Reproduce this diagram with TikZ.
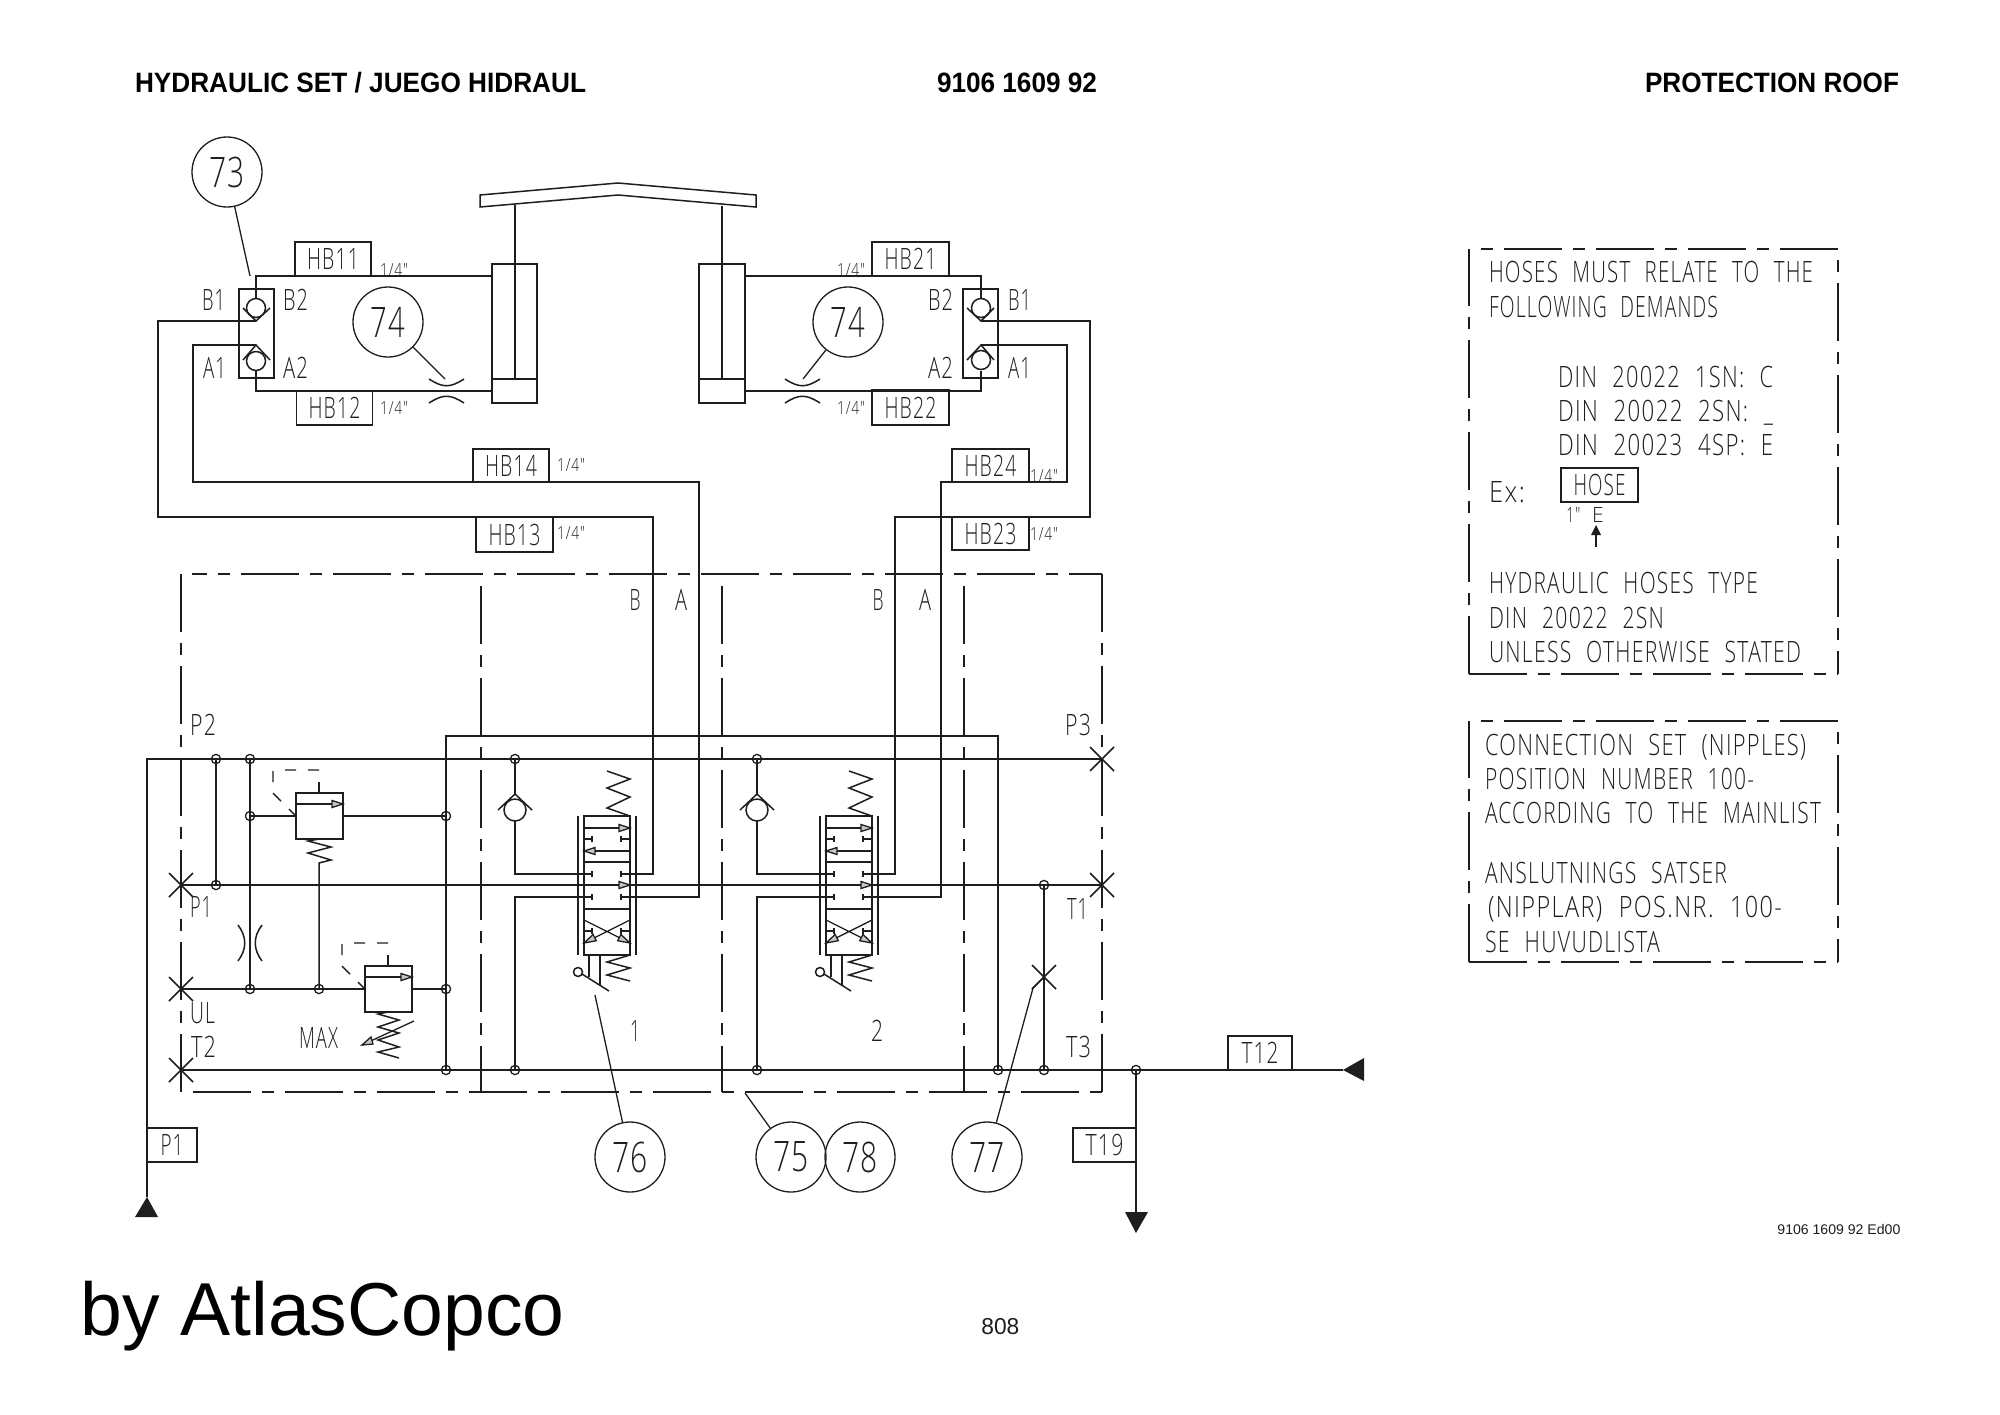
\documentclass[tikz,border=0pt]{standalone}
\usepackage{fontspec}
\usepackage{graphicx}
\setmainfont{Liberation Sans}
\newfontfamily\cadfam[LetterSpace=6,WordSpace=2.2]{Open Sans Light}
\newlength\cwl
\newcommand\cw[2]{\setlength\cwl{\dimexpr#1pt/2\relax}\resizebox{\cwl}{\height}{#2}}
\definecolor{ink}{HTML}{1E1E1E}
\tikzset{
  pipe/.style={line width=.75pt,draw=ink,line join=miter},
  thin line/.style={line width=.65pt,draw=ink},
  dashL/.style={line width=.7pt,draw=ink,dash pattern=on 29pt off 5.5pt on 6pt off 5.5pt},
  dashS/.style={line width=.7pt,draw=ink,dash pattern=on 6pt off 5.5pt on 29pt off 5.5pt},
  pilot/.style={line width=.7pt,draw=ink},
  jn/.style={circle,draw=ink,line width=.65pt,inner sep=0pt,minimum size=4.6pt},
  balloon/.style={circle,draw=ink,line width=.65pt,inner sep=0pt,minimum size=35pt,font=\fontsize{21}{21}\cadfam,text=ink},
  bx/.style n args={2}{draw=ink,line width=.7pt,inner sep=0pt,minimum width=#1*.5pt,minimum height=#2*.5pt,font=\fontsize{14.7}{14.7}\cadfam,text=ink},
  solidbox/.style n args={2}{draw=ink,line width=.75pt,inner sep=0pt,minimum width=#1*.5pt,minimum height=#2*.5pt},
  tw/.style={inner sep=0pt,outer sep=0pt,anchor=base west,font=\fontsize{14.7}{14.7}\cadfam,text=ink},
  tc/.style={inner sep=0pt,outer sep=0pt,anchor=base,font=\fontsize{14.7}{14.7}\cadfam,text=ink},
  tq/.style={inner sep=0pt,outer sep=0pt,anchor=base west,font=\fontsize{9}{9}\cadfam,text=ink},
  th/.style={inner sep=0pt,outer sep=0pt,anchor=base west,font=\fontsize{14}{14}\selectfont\bfseries,text=black},
  xm/.pic={\draw[pipe] (-12,-12)--(12,12) (-12,12)--(12,-12);},
  headR/.pic={\draw[thin line,fill=gray!45] (0,0)--(-11,-3.5)--(-11,3.5)--cycle;},
  headL/.pic={\draw[thin line,fill=gray!45] (0,0)--(11,-3.5)--(11,3.5)--cycle;},
  relief/.pic={
    \draw[pipe] (0,0) rectangle (47,46);
    \draw[pipe] (0,11)--(47,11) (23,0)--(23,-11);
    \pic at (47,11) {headR};
    \draw[pilot] (-11,-23)--(0,-23) (12,-23)--(23,-23) (-23,-22)--(-23,-11)
                 (-23,0)--(-15,8) (-7,16)--(0,23);
  },
  chk/.pic={
    \draw[pipe] (0,0) circle[radius=11];
    \draw[pipe] (-17,0)--(0,-16)--(17,0);
  },
  spool/.pic={
    \draw[pipe] (0,0) rectangle (46,139);
    \draw[pipe] (0,46)--(46,46) (0,93)--(46,93);
    \draw[pipe] (-6,0)--(-6,139) (52,0)--(52,139);
    \draw[pipe] (0,12)--(46,12) (0,35)--(46,35);
    \pic at (46,12) {headR};
    \pic at (0,35) {headL};
    \pic at (46,69) {headR};
    \draw[thin line] (0,23)--(8,23) (8,20)--(8,26) (46,23)--(37,23) (37,20)--(37,26);
    \draw[thin line] (8,55)--(8,61) (37,55)--(37,61) (8,78)--(8,84) (37,78)--(37,84);
    \draw[thin line] (0,115)--(8,115) (8,112)--(8,118) (46,115)--(37,115) (37,112)--(37,118);
    \draw[thin line] (0,104)--(46,127) (46,104)--(0,127);
    \draw[thin line,fill=gray!45] (0,127)--(12.3,124.7)--(9.1,118.5)--cycle;
    \draw[thin line,fill=gray!45] (46,127)--(33.7,124.7)--(36.9,118.5)--cycle;
    \draw[pipe] (46,0)--(23,-8)--(46,-19)--(23,-28)--(46,-37)--(23,-45);
    \draw[pipe] (46,139)--(23,146)--(46,152)--(23,159)--(46,165);
    \draw[pipe] (5,139)--(5,161) (16,139)--(16,169);
    \draw[pipe] (-6,156) circle[radius=4.5];
    \draw[pipe] (-2,158)--(25,175);
  },
}
\begin{document}
\begin{tikzpicture}[x=.5pt,y=-.5pt]
\useasboundingbox (0,0) rectangle (2000,1414);
\fill[white] (0,0) rectangle (2000,1414);

% ---- headers
\node[th] (h1) at (135,92) {\cw{451}{HYDRAULIC SET / JUEGO HIDRAUL}};
\node[th] (h2) at (937,92) {\cw{160}{9106 1609 92}};
\node[th] (h3) at (1645,92) {\cw{254}{PROTECTION ROOF}};
\node[inner sep=0pt,anchor=base west,font=\fontsize{7}{7}\selectfont,text=ink] (h4) at (1777,1234) {\cw{123}{9106 1609 92 Ed00}};
\node[inner sep=0pt,anchor=base west,font=\fontsize{37.5}{37.5}\selectfont,text=black] (h5) at (80,1335) {\cw{484}{by AtlasCopco}};
\node[inner sep=0pt,anchor=base west,font=\fontsize{11.5}{11.5}\selectfont,text=ink] (h6) at (981,1334) {\cw{38}{808}};

% ---- roof and cylinders
\draw[pipe] (480,195)--(618,183)--(756,195)--(756,207)--(618,195)--(480,207)--cycle;
\node[solidbox={45}{139}] (cylL) at (514.5,333.5) {};
\node[solidbox={46}{139}] (cylR) at (722,333.5) {};
\draw[pipe] (cylL.south west |- 0,379)--(cylL.south east |- 0,379);
\draw[pipe] (cylR.south west |- 0,379)--(cylR.south east |- 0,379);
\draw[pipe] (515,205)--(515,379);
\draw[pipe] (722,206)--(722,379);

% ---- rotary valves at the cylinders
\node[solidbox={35}{89}] (vL) at (256.5,333.5) {};
\node[solidbox={35}{89}] (vR) at (980.5,333.5) {};
\draw[pipe] (256,308) circle[radius=9.5] (256,361) circle[radius=9.5]
            (981,308) circle[radius=9.5] (981,360) circle[radius=9.5];
\draw[pipe] (243,308)--(256,321)--(270,308) (243,360)--(256,345)--(270,360)
            (967,308)--(981,321)--(994,308) (967,360)--(981,345)--(994,360);
\coordinate (mLa) at (256,298); \coordinate (mLb) at (256,371);
\coordinate (mRa) at (981,298); \coordinate (mRb) at (981,371);
\draw[pipe] (mLa)--(256,276)--(cylL.west |- 0,276);
\draw[pipe] (mLb)--(256,391)--(cylL.west |- 0,391);
\draw[pipe] (mRa)--(981,276)--(cylR.east |- 0,276);
\draw[pipe] (mRb)--(981,391)--(cylR.east |- 0,391);

% ---- hose labels
\node[bx={76}{34}] (hb11) at (333,259) {\cw{52}{HB11}};
\node[bx={76}{34}] (hb12) at (334.5,408) {\cw{52}{HB12}};
\node[bx={76}{33}] (hb14) at (511,465.5) {\cw{52}{HB14}};
\node[bx={77}{35}] (hb13) at (514.5,534.5) {\cw{52}{HB13}};
\node[bx={77}{34}] (hb21) at (910.5,259) {\cw{52}{HB21}};
\node[bx={77}{35}] (hb22) at (910.5,407.5) {\cw{52}{HB22}};
\node[bx={77}{33}] (hb24) at (990.5,465.5) {\cw{52}{HB24}};
\node[bx={77}{33}] (hb23) at (990.5,533.5) {\cw{52}{HB23}};
\node[tq] (q1) at (380,276) {\cw{28}{1/4"}};
\node[tq] (q2) at (380,414) {\cw{28}{1/4"}};
\node[tq] (q3) at (557,471) {\cw{28}{1/4"}};
\node[tq] (q4) at (557,539) {\cw{28}{1/4"}};
\node[tq] (q5) at (837,276) {\cw{28}{1/4"}};
\node[tq] (q6) at (837,414) {\cw{28}{1/4"}};
\node[tq] (q7) at (1030,482) {\cw{28}{1/4"}};
\node[tq] (q8) at (1030,540) {\cw{28}{1/4"}};

\node[tw] (lb1) at (202,310) {\cw{23}{B1}};
\node[tw] (lb2) at (283,310) {\cw{25}{B2}};
\node[tw] (la1) at (203,378) {\cw{23}{A1}};
\node[tw] (la2) at (283,378) {\cw{25}{A2}};
\node[tw] (rb2) at (928,310) {\cw{25}{B2}};
\node[tw] (rb1) at (1008,310) {\cw{23}{B1}};
\node[tw] (ra2) at (928,378) {\cw{25}{A2}};
\node[tw] (ra1) at (1008,378) {\cw{23}{A1}};

% ---- orifices
\draw[pipe] (429,379) .. controls (443,388) and (450,388) .. (464,379);
\draw[pipe] (429,403) .. controls (443,394) and (450,394) .. (464,403);
\draw[pipe] (785,379) .. controls (799,388) and (806,388) .. (820,379);
\draw[pipe] (785,403) .. controls (799,394) and (806,394) .. (820,403);

% ---- balloons
\node[balloon] (c73) at (227,172) {\cw{36}{73}};
\node[balloon] (c74a) at (388,322) {\cw{35}{74}};
\node[balloon] (c74b) at (848,322) {\cw{35}{74}};
\node[balloon] (c76) at (630,1157) {\cw{36}{76}};
\node[balloon] (c75) at (791,1157) {\cw{36}{75}};
\node[balloon] (c78) at (860,1157) {\cw{36}{78}};
\node[balloon] (c77) at (987,1157) {\cw{36}{77}};
\coordinate (e73) at (250,276);
\coordinate (e74a) at (445,379);
\coordinate (e74b) at (803,379);
\coordinate (e76) at (595,995);
\coordinate (e75) at (745,1093);
\coordinate (e77a) at (1033,988);
\coordinate (xT) at (1044,977);
\draw[thin line] (c73)--(e73);
\draw[thin line] (c74a)--(e74a);
\draw[thin line] (c74b)--(e74b);
\draw[thin line] (c76)--(e76);
\draw[thin line] (c75)--(e75);
\draw[thin line] (c77)--(e77a)--(xT);

% ---- hoses from the block to the valves
\draw[pipe] (256,321)--(158,321)--(158,517)--(653,517)--(653,874)--(621,874);
\draw[pipe] (256,345)--(193,345)--(193,482)--(699,482)--(699,897)--(621,897);
\draw[pipe] (981,321)--(1090,321)--(1090,517)--(895,517)--(895,874)--(863,874);
\draw[pipe] (981,345)--(1067,345)--(1067,482)--(941,482)--(941,897)--(863,897);

% ---- dash-dotted block outline
\draw[dashL,dash phase=21.5pt] (192,574)--(1102,574);
\draw[dashL] (181,574)--(181,1092);
\draw[dashL] (1102,1092)--(1102,574);
\draw[dashL] (193,1092)--(1102,1092);
\draw[dashL] (481,586)--(481,1092);
\draw[dashL] (722,586)--(722,1092);
\draw[dashL] (964,586)--(964,1092);

% ---- junctions
\node[jn] (j1) at (216,759) {};
\node[jn] (j2) at (250,759) {};
\node[jn] (j3) at (515,759) {};
\node[jn] (j4) at (757,759) {};
\node[jn] (j5) at (250,816) {};
\node[jn] (j6) at (446,816) {};
\node[jn] (j7) at (216,885) {};
\node[jn] (j8) at (1044,885) {};
\node[jn] (j9) at (250,989) {};
\node[jn] (j10) at (319,989) {};
\node[jn] (j11) at (446,989) {};
\node[jn] (j12) at (446,1070) {};
\node[jn] (j13) at (515,1070) {};
\node[jn] (j14) at (757,1070) {};
\node[jn] (j15) at (998,1070) {};
\node[jn] (j16) at (1044,1070) {};
\node[jn] (j17) at (1136,1070) {};

\coordinate (xP3) at (1102,759);
\coordinate (xP1) at (181,885);
\coordinate (xT1) at (1102,885);
\coordinate (xUL) at (181,989);
\coordinate (xT2) at (181,1070);
\coordinate (tipP) at (147,1197);
\coordinate (tipT) at (1343,1070);
\coordinate (topT) at (1136,1212);

% ---- main lines
\draw[pipe] (tipP)--(147,759)--(xP3);
\draw[pipe] (446,1070)--(446,736)--(998,736)--(998,1070);
\draw[pipe] (xP1)--(xT1);
\draw[pipe] (xUL)--(365,989);
\draw[pipe] (412,989)--(j11.center);
\draw[pipe] (xT2)--(tipT);
\draw[pipe] (j1.center)--(j7.center);
\draw[pipe] (j2.center)--(j9.center);
\draw[pipe] (j5.center)--(296,816);
\draw[pipe] (343,816)--(j6.center);
\draw[pipe] (j8.center)--(j16.center);
\draw[pipe] (j17.center)--(topT);
\pic at (xP3) {xm};
\pic at (xP1) {xm};
\pic at (xT1) {xm};
\pic at (xUL) {xm};
\pic at (xT2) {xm};
\pic at (xT) {xm};

% ---- orifice on the P-UL line
\draw[pipe] (238,925) .. controls (247,937) and (247,949) .. (238,961);
\draw[pipe] (262,925) .. controls (253,937) and (253,949) .. (262,961);

% ---- relief valves
\pic at (296,793) {relief};
\pic at (365,966) {relief};
\draw[pipe] (319,839)--(308,841)--(331,847)--(308,853)--(331,860)--(319,863)--(j10.center);
\draw[pipe] (388,1012)--(378,1014)--(399,1020)--(378,1027)--(399,1033)--(378,1040)--(399,1047)--(378,1052)--(399,1058);
\draw[thin line] (414,1021)--(362,1045);
\draw[thin line,fill=gray!45] (362,1045)--(373,1044)--(371,1037)--cycle;
\node[tw] (tmax) at (299,1048) {\cw{39}{MAX}};

% ---- spool valves and check valves
\pic at (584,816) {spool};
\pic at (826,816) {spool};
\pic at (515,810) {chk};
\pic at (757,810) {chk};
\draw[pipe] (j3.center)--(515,794);
\draw[pipe] (j4.center)--(757,794);
\draw[pipe] (515,821)--(515,874)--(592,874);
\draw[pipe] (757,821)--(757,874)--(834,874);
\draw[pipe] (j13.center)--(515,897)--(592,897);
\draw[pipe] (j14.center)--(757,897)--(834,897);

% ---- labels in the block
\node[tw] (tp2) at (190,735) {\cw{26}{P2}};
\node[tw] (tp1) at (190,917) {\cw{22}{P1}};
\node[tw] (tul) at (190,1023) {\cw{25}{UL}};
\node[tw] (tt2) at (191,1057) {\cw{25}{T2}};
\node[tw] (tp3) at (1065,735) {\cw{26}{P3}};
\node[tw] (tt1) at (1067,919) {\cw{21}{T1}};
\node[tw] (tt3) at (1066,1057) {\cw{25}{T3}};
\node[tc] (tb1) at (635,610) {\cw{11}{B}};
\node[tc] (ta1) at (681,610) {\cw{12}{A}};
\node[tc] (tb2) at (878,610) {\cw{11}{B}};
\node[tc] (ta2) at (925,610) {\cw{12}{A}};
\node[tc] (tn1) at (635,1041) {\cw{10}{1}};
\node[tc] (tn2) at (877,1041) {\cw{12}{2}};

% ---- port boxes and tank / pump symbols
\node[bx={50}{34}] (bp1) at (172,1145) {\cw{23}{P1}};
\node[bx={63}{34}] (bt19) at (1104.5,1145) {\cw{38}{T19}};
\node[bx={64}{34}] (bt12) at (1260,1053) {\cw{37}{T12}};
\fill[ink] (tipP)--(158,1217)--(135,1217)--cycle;
\fill[ink] (tipT)--(1364,1058)--(1364,1081)--cycle;
\fill[ink] (1136,1233)--(1125,1212)--(1148,1212)--cycle;

% ---- hose note
\draw[dashL] (1469,674)--(1469,249);
\draw[dashS] (1481,249)--(1838,249);
\draw[dashS] (1838,260)--(1838,674);
\draw[dashL] (1469,674)--(1838,674);
\node[tw] (n1) at (1489,282) {\cw{324}{HOSES MUST RELATE TO THE}};
\node[tw] (n2) at (1489,317) {\cw{229}{FOLLOWING DEMANDS}};
\node[tw] (n3) at (1558,387) {\cw{215}{DIN 20022 1SN: C}};
\node[tw] (n4) at (1558,421) {\cw{215}{DIN 20022 2SN: \_}};
\node[tw] (n5) at (1558,455) {\cw{215}{DIN 20023 4SP: E}};
\node[tw] (n6) at (1489,502) {\cw{36}{Ex:}};
\node[bx={77}{34}] (hose) at (1599.5,485) {\cw{52}{HOSE}};
\node[inner sep=0pt,anchor=base west,font=\fontsize{10.5}{10.5}\cadfam,text=ink] (n7) at (1566,522) {\cw{14}{1"}};
\node[inner sep=0pt,anchor=base,font=\fontsize{10.5}{10.5}\cadfam,text=ink] (n8) at (1598,522) {E};
\coordinate (ar1) at (1596,547);
\coordinate (ar2) at (1596,534);
\draw[pipe] (ar1)--(ar2);
\fill[ink] (1596,525)--(1601,535)--(1591,535)--cycle;
\node[tw] (n9) at (1489,593) {\cw{269}{HYDRAULIC HOSES TYPE}};
\node[tw] (n10) at (1489,628) {\cw{175}{DIN 20022 2SN}};
\node[tw] (n11) at (1489,662) {\cw{312}{UNLESS OTHERWISE STATED}};

% ---- nipple note
\draw[dashL] (1469,962)--(1469,721);
\draw[dashS] (1481,721)--(1838,721);
\draw[dashS] (1838,732)--(1838,962);
\draw[dashL] (1469,962)--(1838,962);
\node[tw] (m1) at (1485,755) {\cw{321}{CONNECTION SET (NIPPLES)}};
\node[tw] (m2) at (1485,789) {\cw{269}{POSITION NUMBER 100-}};
\node[tw] (m3) at (1485,823) {\cw{336}{ACCORDING TO THE MAINLIST}};
\node[tw] (m4) at (1485,883) {\cw{242}{ANSLUTNINGS SATSER}};
\node[tw] (m5) at (1488,917) {\cw{294}{(NIPPLAR) POS.NR. 100-}};
\node[tw] (m6) at (1485,952) {\cw{175}{SE HUVUDLISTA}};
\end{tikzpicture}
\end{document}
